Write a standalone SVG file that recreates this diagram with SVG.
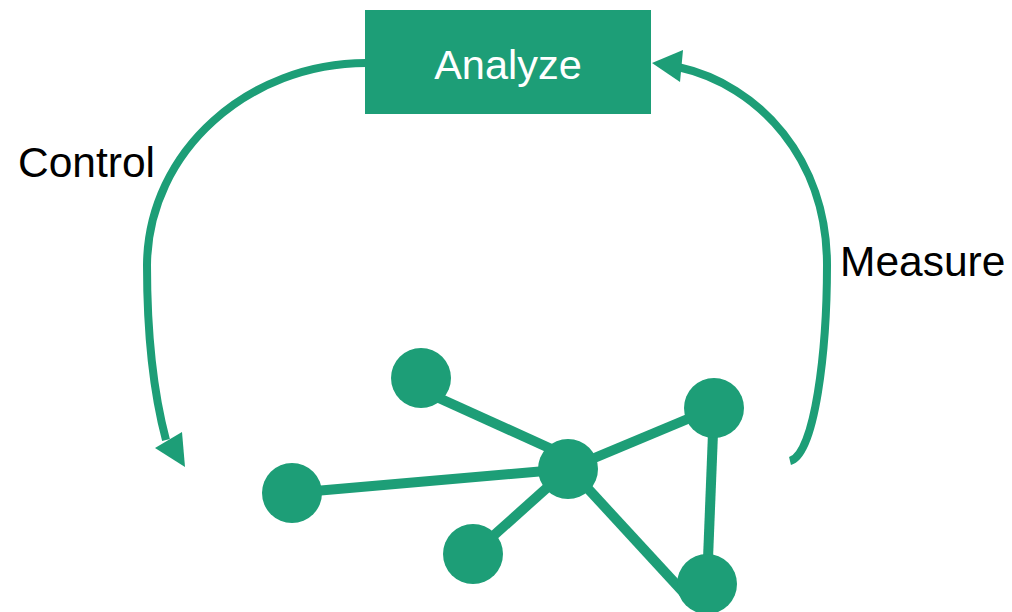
<svg xmlns="http://www.w3.org/2000/svg" width="1012" height="612" viewBox="0 0 1012 612">
<style>
.fl{fill:#1d9e77}
.ln{stroke:#1d9e77;stroke-width:10;fill:none}
.arc{stroke:#1d9e77;stroke-width:8;fill:none}
.lbl{font-family:"Liberation Sans",Arial,sans-serif;font-size:42.5px;fill:#000}
</style>
<rect width="1012" height="612" fill="#fff"/>
<g id="connectors">
<path class="arc" d="M 366 63 C 250 63, 148 150, 147 265 C 147 340, 154 395, 166 440"/>
<polygon class="fl" points="185,467 155,448 182,432"/>
<path class="arc" d="M 790 461 C 815 455, 827 350, 827 265 C 827 160, 760 85, 678 67"/>
<polygon class="fl" points="652,63 683,50 680,82"/>
<line class="ln" x1="430" y1="394" x2="558" y2="452"/>
<line class="ln" x1="292" y1="493" x2="568" y2="469"/>
<line class="ln" x1="473" y1="554" x2="568" y2="469"/>
<line class="ln" x1="714" y1="408" x2="568" y2="469"/>
<line class="ln" x1="568" y1="467" x2="685" y2="594"/>
<line class="ln" x1="714" y1="408" x2="707" y2="584"/>
</g>
<g id="analyze">
<rect class="fl" x="365" y="10" width="286" height="104"/>
<text x="508" y="79" text-anchor="middle" font-family="Liberation Sans, Arial, sans-serif" font-size="41.5" fill="#fff">Analyze</text>
</g>
<g id="label-control"><text class="lbl" x="18" y="177">Control</text></g>
<g id="label-measure"><text class="lbl" x="840" y="276">Measure</text></g>
<g id="n1"><circle class="fl" cx="421" cy="378" r="30"/></g>
<g id="n2"><circle class="fl" cx="292" cy="493" r="30"/></g>
<g id="n3"><circle class="fl" cx="568" cy="469" r="30"/></g>
<g id="n4"><circle class="fl" cx="473" cy="554" r="30"/></g>
<g id="n5"><circle class="fl" cx="714" cy="408" r="30"/></g>
<g id="n6"><circle class="fl" cx="707" cy="584" r="30"/></g>
</svg>
